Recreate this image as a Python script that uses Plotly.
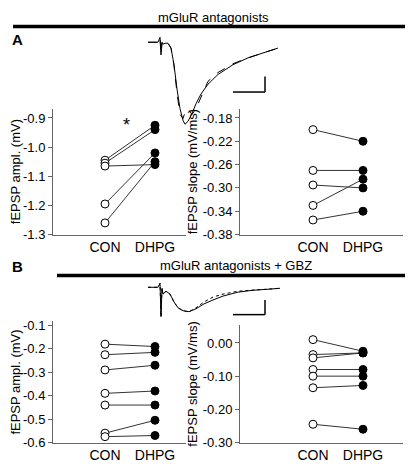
import plotly.graph_objects as go

W, H = 413, 464
# Panel A
a_amp_con = [-1.045, -1.055, -1.065, -1.195, -1.26]
a_amp_dhpg = [-0.925, -0.94, -1.06, -1.02, -1.05]
a_slope_con = [-0.20, -0.27, -0.295, -0.33, -0.355]
a_slope_dhpg = [-0.22, -0.27, -0.30, -0.285, -0.34]
# Panel B
b_amp_con = [-0.18, -0.225, -0.29, -0.39, -0.44, -0.56, -0.575]
b_amp_dhpg = [-0.19, -0.215, -0.27, -0.38, -0.44, -0.505, -0.57]
b_slope_con = [0.01, -0.035, -0.045, -0.08, -0.10, -0.135, -0.245]
b_slope_dhpg = [-0.025, -0.03, -0.03, -0.08, -0.10, -0.128, -0.26]
categories = ["CON", "DHPG"]

# example traces (pixel samples)
trA_x = [140, 150, 152, 153, 154, 155, 157, 160, 163, 166, 169, 172, 175, 177, 180, 184, 188, 193, 200, 210, 225, 240, 255, 270]
trA_y = [32, 32, 27, 45, 32, 34, 33, 33, 38, 55, 80, 100, 112, 116, 113, 105, 95, 85, 75, 65, 55, 48, 43, 38]
trA2_y = [32, 32, 27, 45, 32, 34, 33, 33, 38, 56, 84, 106, 110, 104, 100, 106, 100, 88, 72, 63, 54, 48, 43, 38]
trB_x = [140, 150, 152, 153, 154, 155, 158, 162, 166, 170, 175, 181, 188, 196, 205, 215, 230, 245, 260, 272]
trB_y = [283, 283, 279, 313, 284, 290, 287, 290, 298, 304, 307, 308, 305, 300, 296, 292, 288, 286, 285, 284]
trB2_y = [283, 283, 279, 313, 284, 290, 287, 290, 298, 304, 307, 308, 304, 298, 293, 290, 287, 286, 285, 284]

def px(v): return v / W
def py(v): return 1 - v / H

fig = go.Figure()
panels = [
    (a_amp_con, a_amp_dhpg, (45, 178), (100, 229), [-1.04, 1.62], [-1.3, -0.868],
     [-0.9, -1.0, -1.1, -1.2, -1.3], ["-0.9", "-1.0", "-1.1", "-1.2", "-1.3"], "fEPSP ampl. (mV)"),
    (a_slope_con, a_slope_dhpg, (232, 395), (100, 229), [-1.46, 1.8], [-0.38, -0.164],
     [-0.18, -0.22, -0.26, -0.30, -0.34, -0.38], ["-0.18", "-0.22", "-0.26", "-0.30", "-0.34", "-0.38"], "fEPSP slope (mV/ms)"),
    (b_amp_con, b_amp_dhpg, (45, 178), (318, 442), [-1.04, 1.62], [-0.6, -0.083],
     [-0.1, -0.2, -0.3, -0.4, -0.5, -0.6], ["-0.1", "-0.2", "-0.3", "-0.4", "-0.5", "-0.6"], "fEPSP ampl. (mV)"),
    (b_slope_con, b_slope_dhpg, (232, 395), (322, 442), [-1.46, 1.8], [-0.30, 0.053],
     [0.0, -0.1, -0.2, -0.3], ["0.00", "-0.10", "-0.20", "-0.30"], "fEPSP slope (mV/ms)"),
]
fam = "Liberation Sans, Arial"
font = dict(family=fam, size=13, color="black")
for i, (con, dh, xd, yd, xr, yr, tv, tt, title) in enumerate(panels, start=1):
    xa = "x" if i == 1 else f"x{i}"
    ya = "y" if i == 1 else f"y{i}"
    for c, d in zip(con, dh):
        fig.add_trace(go.Scatter(x=[0, 1], y=[c, d], xaxis=xa, yaxis=ya, mode="lines",
                                 line=dict(color="#333", width=1), showlegend=False, hoverinfo="skip"))
    fig.add_trace(go.Scatter(x=[0] * len(con), y=con, xaxis=xa, yaxis=ya, mode="markers",
                             marker=dict(size=8, color="white", line=dict(color="black", width=1)), showlegend=False))
    fig.add_trace(go.Scatter(x=[1] * len(dh), y=dh, xaxis=xa, yaxis=ya, mode="markers",
                             marker=dict(size=8, color="black", line=dict(color="black", width=1)), showlegend=False))
    fig.layout[f"xaxis{'' if i == 1 else i}"] = dict(
        domain=[px(xd[0]), px(xd[1])], range=xr, anchor=ya, showgrid=False, zeroline=False,
        showline=True, linecolor="#666", linewidth=1, ticks="", tickvals=[0, 1], ticktext=categories,
        tickfont=dict(size=14, family=fam, color="black"))
    fig.layout[f"yaxis{'' if i == 1 else i}"] = dict(
        domain=[py(yd[1]), py(yd[0])], range=yr, anchor=xa, showgrid=False, zeroline=False,
        showline=True, linecolor="#666", linewidth=1, ticks="outside", ticklen=4, tickcolor="#666",
        tickvals=tv, ticktext=tt, tickfont=font,
        title=dict(text=title, font=dict(size=13, family=fam, color="black"), standoff=2))

# trace overlay axis in pixel units
for tx, ty, dash in [(trA_x, trA_y, "solid"), (trA_x, trA2_y, "dash"), (trB_x, trB_y, "solid"), (trB_x, trB2_y, "dot")]:
    fig.add_trace(go.Scatter(x=tx, y=ty, xaxis="x5", yaxis="y5", mode="lines",
                             line=dict(color="black", width=1, dash=dash), showlegend=False, hoverinfo="skip"))
fig.layout.xaxis5 = dict(domain=[0, 1], range=[0, W], visible=False, anchor="y5")
fig.layout.yaxis5 = dict(domain=[0, 1], range=[H, 0], visible=False, anchor="x5")

shapes = []
def pline(x0, y0, x1, y1, w):
    shapes.append(dict(type="line", xref="paper", yref="paper", x0=px(x0), y0=py(y0), x1=px(x1), y1=py(y1),
                       line=dict(color="black", width=w)))
pline(5, 16, 405, 16, 3.5)
pline(49, 271, 410, 271, 3.5)
pline(225, 83, 257, 83, 1.5); pline(257, 83, 257, 67, 1.5)
pline(225, 311, 257, 311, 1.5); pline(257, 311, 257, 296, 1.5)
fig.update_layout(shapes=shapes)

ann = [
    ("mGluR antagonists", 205, 7, 13, False),
    ("mGluR antagonists + GBZ", 228, 261, 13, False),
    ("A", 9, 29, 15, True),
    ("B", 9, 262, 15, True),
    ("*", 118, 117, 18, False),
]
for t, x, y, s, b in ann:
    fig.add_annotation(text=f"<b>{t}</b>" if b else t, x=px(x), y=py(y), xref="paper", yref="paper",
                       xanchor="center", yanchor="middle",
                       showarrow=False, font=dict(size=s, family=fam, color="black"))

fig.update_layout(width=W, height=H, margin=dict(l=0, r=0, t=0, b=0),
                  plot_bgcolor="rgba(0,0,0,0)", paper_bgcolor="white", font=font)
fig.write_html("out.html")
